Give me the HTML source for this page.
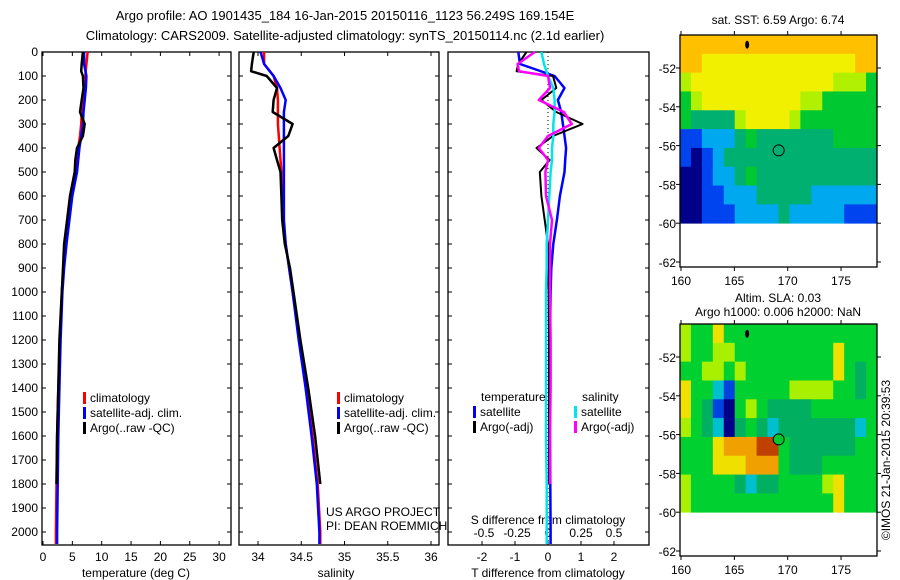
<!DOCTYPE html>
<html><head><meta charset="utf-8"><style>
body{margin:0;background:#fff;}
svg{display:block;font-family:"Liberation Sans",sans-serif;font-size:12px;}
</style></head><body>
<svg id="fig" width="900" height="580" viewBox="0 0 900 580">
<text x="345" y="20" text-anchor="middle" font-size="13">Argo profile: AO 1901435_184 16-Jan-2015 20150116_1123 56.249S 169.154E</text>
<text x="345" y="40" text-anchor="middle" font-size="13">Climatology: CARS2009. Satellite-adjusted climatology: synTS_20150114.nc (2.1d earlier)</text>
<g id="g"></g>
</svg>
<script>
// ---- data ----
const depths=[0,50,100,150,200,250,300,350,400,450,500,600,700,800,900,1000,1200,1400,1600,1800,2000,2050];
const argoDepths=[0,50,80,100,150,200,250,300,350,400,450,500,600,700,800,900,1000,1200,1400,1600,1800];
const climT=[7.6,7.4,7.2,7.0,6.8,6.6,6.5,6.3,6.0,5.8,5.6,4.9,4.3,3.8,3.5,3.2,2.9,2.6,2.4,2.3,2.2,2.2];
const satT=[7.0,7.0,7.4,7.3,7.1,6.9,6.8,6.5,6.2,6.0,5.8,5.0,4.5,4.0,3.6,3.3,3.0,2.8,2.6,2.5,2.4,2.4];
const argoT=[6.8,6.6,6.5,6.8,6.9,6.6,6.3,7.1,6.8,5.8,5.5,5.4,4.6,4.1,3.6,3.4,3.2,2.8,2.6,2.4,2.3];
const climS=[34.07,34.07,34.18,34.22,34.23,34.23,34.23,34.24,34.25,34.26,34.27,34.28,34.29,34.32,34.36,34.40,34.48,34.56,34.63,34.69,34.72,34.72];
const satS=[34.03,34.07,34.18,34.26,34.32,34.30,34.30,34.30,34.30,34.30,34.30,34.30,34.30,34.32,34.36,34.40,34.47,34.55,34.62,34.68,34.71,34.71];
const argoS=[33.95,33.93,33.92,34.10,34.22,34.18,34.17,34.40,34.35,34.18,34.22,34.26,34.27,34.28,34.31,34.37,34.41,34.49,34.58,34.66,34.72];
const dTsat=[-0.9,-0.85,0.2,0.5,0.3,0.4,0.45,0.5,0.55,0.52,0.5,0.36,0.27,0.16,0.1,0.08,0.06,0.06,0.06,0.07,0.08,0.08];
const dTargo=[-0.65,-0.9,-0.95,0.15,0.25,-0.2,0.25,1.05,0.15,-0.35,0.05,-0.25,-0.2,-0.1,0,0,0.02,0.03,0.03,0.03,0.03];
const dSsat=[-0.05,-0.03,0,0.04,0.05,0.05,0.04,0.04,0.03,0.03,0.02,0.01,0,-0.01,-0.01,-0.015,-0.015,-0.015,-0.015,-0.01,-0.01,-0.01];
const dSargo=[-0.1,-0.23,-0.22,0,0.015,-0.07,0.12,0.18,0,-0.07,0,-0.02,-0.015,0.03,0.015,0.015,0.015,0.02,0.02,0.015,0.015];
const tTicks=[0,5,10,15,20,25,30];
const sTicks=[34,34.5,35,35.5,36];
const dTicksT=[-2,-1,0,1,2];
const dTicksS=[-0.5,-0.25,0,0.25,0.5];
const depthTicks=[0,100,200,300,400,500,600,700,800,900,1000,1100,1200,1300,1400,1500,1600,1700,1800,1900,2000];
const mapLatTicks=[-52,-54,-56,-58,-60,-62];
const mapLonTicks=[160,165,170,175];
const sstGrid=[
[7,7,7,7,7,7,7,7,7,7,7,7,7,7,7,7,7,7],
[7,7,6,6,6,6,6,6,6,6,6,6,6,6,6,6,7,7],
[5,6,6,6,6,6,6,6,6,6,6,6,6,6,5,5,5,4],
[4,5,6,6,6,6,6,6,6,6,6,5,5,4,4,4,4,4],
[4,3,3,3,3,5,6,6,6,6,5,4,4,4,4,4,4,4],
[1,1,2,2,2,3,4,3,3,3,3,3,3,3,4,4,4,4],
[1,0,1,2,3,3,3,3,3,3,3,3,3,3,3,3,3,3],
[0,0,1,2,2,3,4,3,3,3,3,3,3,3,3,3,3,3],
[0,0,1,1,2,2,2,3,3,3,3,3,2,2,2,2,2,2],
[0,0,1,1,1,2,2,2,2,3,2,2,2,2,2,1,1,1]];
const slaGrid=[
[5,4,4,6,4,4,4,4,4,4,4,4,4,4,4,4,4,4],
[5,4,4,5,5,4,4,4,4,4,4,4,4,4,6,4,4,4],
[4,4,5,5,4,5,4,4,4,4,4,4,4,4,6,4,3,4],
[6,4,4,2,1,4,4,4,4,4,5,5,5,5,4,4,3,4],
[6,4,3,1,0,4,5,4,3,3,3,3,4,4,4,4,4,4],
[5,4,3,2,0,3,4,3,2,3,3,3,3,3,3,3,2,4],
[4,4,4,6,7,7,7,8,8,4,3,3,3,3,3,3,4,4],
[4,4,4,6,6,6,7,7,7,4,3,3,3,4,4,4,4,4],
[5,4,4,4,4,3,2,3,3,4,4,4,4,5,6,4,4,4],
[5,4,4,4,4,4,4,4,4,4,4,4,4,4,6,4,4,4]];
const sstCols=["#000088","#0044f0","#00a8f0","#00b070","#00c830","#b0f000","#f0f000","#ffc000"];
const slaCols=["#000088","#0044e0","#00c0d0","#00b060","#00d030","#a8f000","#f0e000","#f0a000","#c04000"];
const floatLon=169.154, floatLat=-56.249;

// ---- helpers ----
const NS="http://www.w3.org/2000/svg";
const G=document.getElementById('g');
function mk(tag,at,parent){const e=document.createElementNS(NS,tag);for(const k in at)e.setAttribute(k,at[k]);(parent||G).appendChild(e);return e;}
const yD=d=>52+d*0.24;
function frame(x0,x1,y0,y1,name){
  const r=mk('rect',{x:x0,y:y0,width:x1-x0,height:y1-y0,fill:'none',stroke:'#000','stroke-width':1.3});
  
  
}
function text(x,y,s,anchor,name,size){
  const t=mk('text',{x:x,y:y,'text-anchor':anchor||'start','font-size':size||12});
  t.textContent=s;
  
  
  return t;
}
function line(xs,ds,sx,color,w,name){
  let p='';
  for(let i=0;i<xs.length;i++){p+=(i?'L':'M')+sx(xs[i]).toFixed(1)+' '+yD(ds[i]).toFixed(1);}
  const e=mk('path',{d:p,fill:'none',stroke:color,'stroke-width':w||2.5,'stroke-linejoin':'round'});
  
  
}
function depthAxis(x0,x1,labels){
  depthTicks.forEach(d=>{
    const y=yD(d);
    mk('line',{x1:x0,y1:y,x2:x0+4,y2:y,stroke:'#000'});
    mk('line',{x1:x1,y1:y,x2:x1-4,y2:y,stroke:'#000'});
    if(labels) text(x0-4,y+4,String(d),'end','depth-tick-label');
  });
}
function legend(x,y,items,name){
  items.forEach((it,i)=>{
    const r=mk('rect',{x:x,y:y+i*15-10,width:3,height:12,fill:it[1]});
    
    
    text(x+7,y+i*15,it[0],'start',name+'-entry');
  });
}
const PB=545;
// ---- panel 1: temperature ----
const xT=v=>43+v*5.87;
frame(42,231,52,PB,'temperature-panel');
depthAxis(42,231,true);
tTicks.forEach(t=>{mk('line',{x1:xT(t),y1:PB,x2:xT(t),y2:PB-4,stroke:'#000'});mk('line',{x1:xT(t),y1:52,x2:xT(t),y2:56,stroke:'#000'});text(xT(t),561,String(t),'middle','temperature-tick-label');});
text(136,577,'temperature (deg C)','middle','x-axis-title-temperature');
line(climT,depths,xT,'#ff0000',2.5,'climatology-temperature-line');
line(satT,depths,xT,'#0000ff',2.5,'satellite-temperature-line');
line(argoT,argoDepths,xT,'#000000',2.5,'argo-temperature-line');
legend(83,402,[['climatology','#ff0000'],['satellite-adj. clim.','#0000ff'],['Argo(..raw -QC)','#000']],'temperature-legend');
// ---- panel 2: salinity ----
const xS=v=>258+(v-34)*86.5;
frame(239,439,52,PB,'salinity-panel');
depthAxis(239,439,false);
sTicks.forEach(t=>{mk('line',{x1:xS(t),y1:PB,x2:xS(t),y2:PB-4,stroke:'#000'});mk('line',{x1:xS(t),y1:52,x2:xS(t),y2:56,stroke:'#000'});text(xS(t),561,String(t),'middle','salinity-tick-label');});
text(336,577,'salinity','middle','x-axis-title-salinity');
line(climS,depths,xS,'#ff0000',2.5,'climatology-salinity-line');
line(satS,depths,xS,'#0000ff',2.5,'satellite-salinity-line');
line(argoS,argoDepths,xS,'#000000',2.5,'argo-salinity-line');
legend(337,402,[['climatology','#ff0000'],['satellite-adj. clim.','#0000ff'],['Argo(..raw -QC)','#000']],'salinity-legend');
text(326,516,'US ARGO PROJECT','start','project-credit');
text(326,530,'PI: DEAN ROEMMICH','start','pi-credit');
// ---- panel 3: differences ----
const xdT=v=>548+v*33;
const xdS=v=>548+v*132;
frame(448,649,52,PB,'difference-panel');
depthAxis(448,649,false);
mk('line',{x1:548,y1:52,x2:548,y2:PB,stroke:'#000','stroke-dasharray':'1 3'});
dTicksT.forEach(t=>{mk('line',{x1:xdT(t),y1:PB,x2:xdT(t),y2:PB-4,stroke:'#000'});text(xdT(t),561,String(t),'middle','t-diff-tick-label');});
dTicksS.forEach(t=>{text(xdS(t)+(t<0?2:0),537,String(t),'middle','s-diff-tick-label');});
text(548,524,'S difference from climatology','middle','s-diff-axis-title');
text(548,577,'T difference from climatology','middle','t-diff-axis-title');
line(dTsat,depths,xdT,'#0000ff',2.5,'satellite-t-diff-line');
line(dTargo,argoDepths,xdT,'#000000',2,'argo-t-diff-line');
line(dSsat,depths,xdS,'#00e5ee',2.5,'satellite-s-diff-line');
line(dSargo,argoDepths,xdS,'#ff00ff',2.5,'argo-s-diff-line');
text(481,401,'temperature','start','t-diff-legend-title');
legend(473,416,[['satellite','#0000ff'],['Argo(-adj)','#000']],'t-diff-legend');
text(582,401,'salinity','start','s-diff-legend-title');
legend(574,416,[['satellite','#00e5ee'],['Argo(-adj)','#ff00ff']],'s-diff-legend');
// ---- maps ----
function map(top,grid,cols,name,dotFill){
  const mx=lo=>681+(lo-160)*10.67;
  const my=la=>top+33+(-52-la)*19.4;
  const x0=680,x1=877,yTop=top,yBot=top+232;
  const cw=(x1-x0)/grid[0].length, latTop=-50.3, rh=(my(-60)-yTop)/grid.length;
  grid.forEach((row,r)=>row.forEach((v,c)=>{
    const e=mk('rect',{x:(x0+c*cw).toFixed(2),y:(yTop+r*rh).toFixed(2),width:(cw+0.4).toFixed(2),height:(rh+0.4).toFixed(2),fill:cols[v]});
    
    
  }));
  frame(x0,x1,yTop,yBot,name+'-frame');
  mapLatTicks.forEach(l=>{const y=my(l);mk('line',{x1:x0,y1:y,x2:x0-4,y2:y,stroke:'#000'});mk('line',{x1:x1,y1:y,x2:x1+4,y2:y,stroke:'#000'});text(x0-4,y+5,String(l),'end',name+'-lat-label');});
  mapLonTicks.forEach(l=>{const x=mx(l);mk('line',{x1:x,y1:yBot,x2:x,y2:yBot+4,stroke:'#000'});mk('line',{x1:x,y1:yTop,x2:x,y2:yTop-4,stroke:'#000'});text(x,yBot+18,String(l),'middle',name+'-lon-label');});
  const c=mk('circle',{cx:mx(floatLon),cy:my(floatLat),r:5.5,fill:dotFill,stroke:'#000','stroke-width':1});
  
  
  mk('ellipse',{cx:mx(166.2),cy:my(-50.8),rx:2,ry:4,fill:'#000'});
}
map(35,sstGrid,sstCols,'sst-map','none');
text(778,24,'sat. SST: 6.59 Argo: 6.74','middle','sst-map-title');
map(324,slaGrid,slaCols,'sla-map','#00c830');
text(778,302,'Altim. SLA: 0.03','middle','sla-map-title');
text(778,316,'Argo h1000: 0.006 h2000: NaN','middle','sla-map-subtitle');
const cr=text(0,0,'\u00A9IMOS 21-Jan-2015 20:39:53','middle','imos-credit');
cr.setAttribute('transform','translate(890,460) rotate(-90)');
</script>
</body></html>
